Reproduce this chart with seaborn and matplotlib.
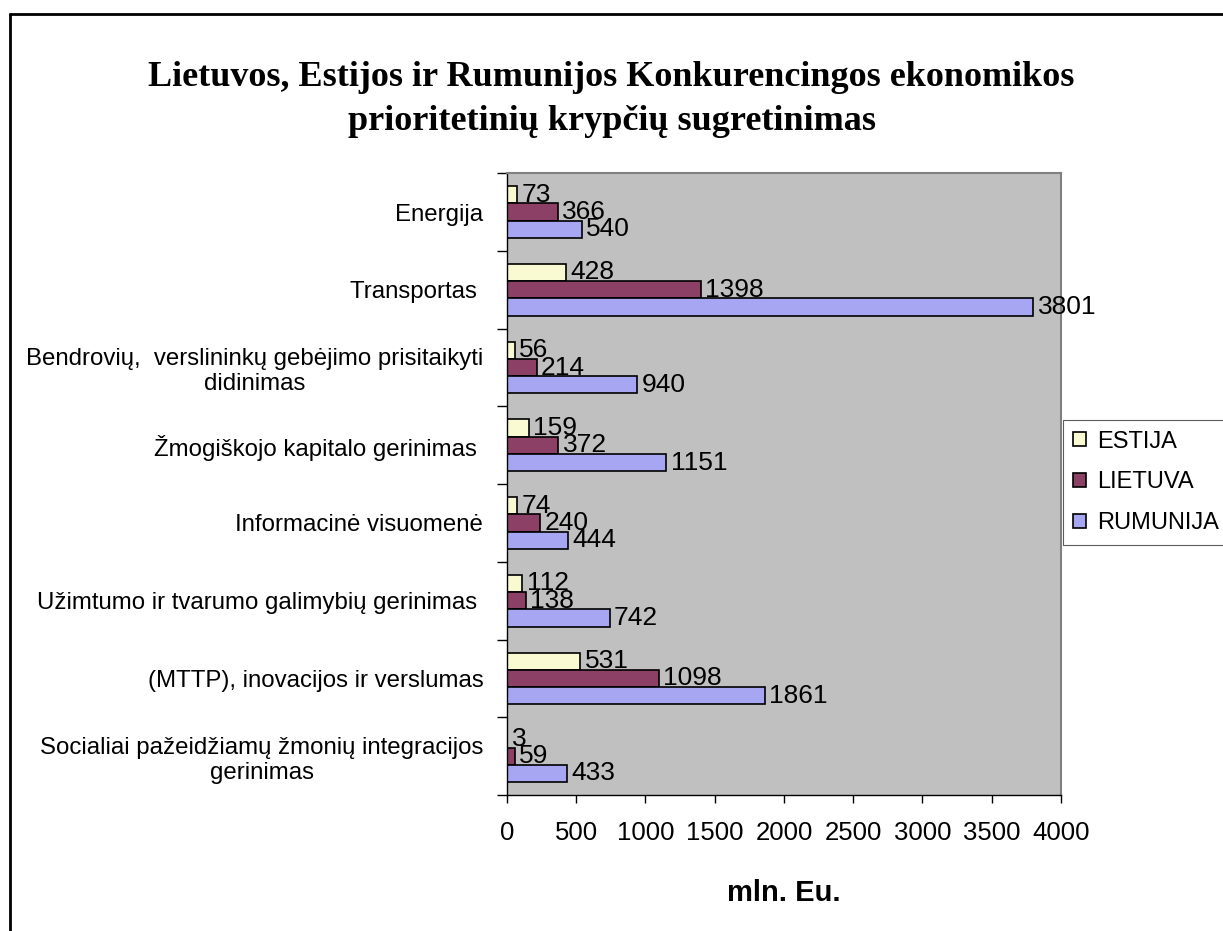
import numpy as np
import pandas as pd
import matplotlib.pyplot as plt
from matplotlib.lines import Line2D
from matplotlib.ticker import FixedLocator
import seaborn as sns

# -- data ---------------------------------------------------------------------
categories = [
    "Energija",
    "Transportas ",
    "Bendrovių,  verslininkų gebėjimo prisitaikyti\ndidinimas",
    "Žmogiškojo kapitalo gerinimas ",
    "Informacinė visuomenė",
    "Užimtumo ir tvarumo galimybių gerinimas ",
    "(MTTP), inovacijos ir verslumas",
    "Socialiai pažeidžiamų žmonių integracijos\ngerinimas",
]
countries = ["ESTIJA", "LIETUVA", "RUMUNIJA"]
estija = [73, 428, 56, 159, 74, 112, 531, 3]
lietuva = [366, 1398, 214, 372, 240, 138, 1098, 59]
rumunija = [540, 3801, 940, 1151, 444, 742, 1861, 433]
x_ticks = [0, 500, 1000, 1500, 2000, 2500, 3000, 3500, 4000]

colors = {"ESTIJA": "#FFFFCC", "LIETUVA": "#993366", "RUMUNIJA": "#9999FF"}

df = pd.DataFrame({
    "category": categories * 3,
    "country": np.repeat(countries, len(categories)),
    "value": estija + lietuva + rumunija,
})

# -- figure -------------------------------------------------------------------
sns.set_style("white")
plt.rcParams["font.family"] = ["Liberation Sans", "DejaVu Sans"]
plt.rcParams["text.color"] = "black"
plt.rcParams["xtick.color"] = "black"
plt.rcParams["ytick.color"] = "black"
plt.rcParams["axes.labelcolor"] = "black"

fig = plt.figure(figsize=(12.23, 9.31), dpi=100)
ax = fig.add_axes([0.4145, 0.146, 0.453, 0.668])
ax.set_facecolor("#C0C0C0")

sns.barplot(
    data=df, x="value", y="category", hue="country",
    order=categories, hue_order=countries, palette=colors,
    orient="h", width=0.667, edgecolor="black", linewidth=1.2,
    errorbar=None, ax=ax, legend=True,
)

for cont in ax.containers:
    ax.bar_label(cont, fmt="%d", padding=3, fontsize=19, color="black")

ax.set_xlim(0, 4000)
ax.set_xticks(x_ticks)
ax.set_ylim(len(categories) - 0.5, -0.5)
ax.yaxis.set_minor_locator(FixedLocator(np.arange(-0.5, len(categories), 1)))
ax.tick_params(axis="y", which="major", length=0, labelsize=17.3, pad=17)
ax.tick_params(axis="y", which="minor", length=7, width=1, color="black", direction="out", left=True)
ax.tick_params(axis="x", length=6, width=1, color="black", direction="out", bottom=True,
               labelsize=18.5, pad=13)
for lbl in ax.get_yticklabels():
    lbl.set_multialignment("center")

ax.set_ylabel("")
ax.set_xlabel("mln. Eu.", fontsize=21, fontweight="bold", labelpad=24)

for side in ["left", "bottom"]:
    ax.spines[side].set_color("black")
    ax.spines[side].set_linewidth(1)
for side in ["top", "right"]:
    ax.spines[side].set_color("#808080")
    ax.spines[side].set_linewidth(1.5)

leg = ax.legend(
    loc="upper left", bbox_to_anchor=(0.869, 0.549), bbox_transform=fig.transFigure,
    fontsize=17, frameon=True, fancybox=False, edgecolor="#333333",
    handlelength=0.55, handleheight=0.55, handletextpad=0.45, labelspacing=0.8,
    borderpad=0.45, borderaxespad=0,
)
leg.get_frame().set_linewidth(0.8)

fig.text(0.5, 0.893, "Lietuvos, Estijos ir Rumunijos Konkurencingos ekonomikos\n"
         "prioritetinių krypčių sugretinimas",
         ha="center", va="center", fontsize=26, fontweight="bold", color="black",
         family=["Liberation Serif", "DejaVu Serif"], linespacing=1.45)

# outer frame (left and top edges visible)
fig.add_artist(Line2D([0.0078, 0.0078], [0.0, 0.985], color="black", lw=2,
                      transform=fig.transFigure))
fig.add_artist(Line2D([0.0078, 1.0], [0.985, 0.985], color="black", lw=2,
                      transform=fig.transFigure))

fig.savefig("out.png", dpi=100)
